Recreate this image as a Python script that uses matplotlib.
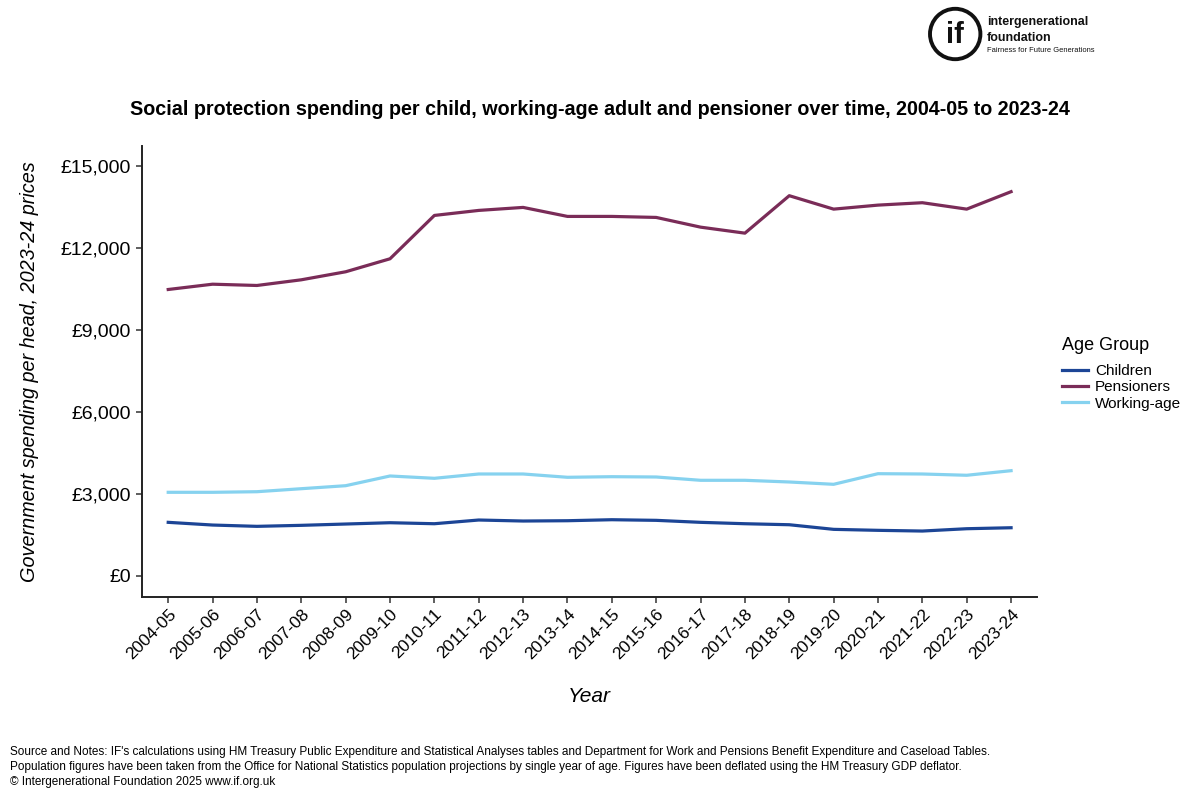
import numpy as np
import matplotlib.pyplot as plt
from matplotlib.patches import Circle
from matplotlib import font_manager

plt.rcParams['font.family'] = ['Liberation Sans', 'DejaVu Sans']

# Data
years = ['2004-05', '2005-06', '2006-07', '2007-08', '2008-09', '2009-10',
         '2010-11', '2011-12', '2012-13', '2013-14', '2014-15', '2015-16',
         '2016-17', '2017-18', '2018-19', '2019-20', '2020-21', '2021-22',
         '2022-23', '2023-24']
children = [1958, 1859, 1811, 1848, 1896, 1944, 1907, 2043, 2006, 2017,
            2054, 2031, 1958, 1907, 1870, 1701, 1665, 1639, 1724, 1760]
pensioners = [10488, 10682, 10635, 10843, 11137, 11613, 13201, 13385, 13495, 13165,
              13165, 13128, 12772, 12552, 13924, 13432, 13579, 13667, 13432, 14071]
working_age = [3058, 3058, 3080, 3190, 3300, 3656, 3571, 3729, 3729, 3608,
               3630, 3619, 3498, 3498, 3436, 3351, 3740, 3729, 3682, 3850]
yticks = [0, 3000, 6000, 9000, 12000, 15000]

series = [('Children', children, '#1c4596'),
          ('Pensioners', pensioners, '#7a2c58'),
          ('Working-age', working_age, '#86d2ef')]

fig = plt.figure(figsize=(12, 8), dpi=100)
ax = fig.add_axes([0.118, 0.254, 0.746, 0.563])

x = np.arange(len(years))
for name, vals, col in series:
    ax.plot(x, vals, color=col, linewidth=2.3, label=name)

ax.set_xlim(-0.6, len(years) - 1 + 0.58)
ax.set_ylim(-770, 15730)
ax.set_xticks(x)
ax.set_xticklabels(years, rotation=45, ha='right', rotation_mode='anchor', fontsize=12.5)
ax.set_yticks(yticks)
ax.set_yticklabels([f'£{v:,}' for v in yticks], fontsize=14)
ax.tick_params(axis='both', length=4, width=1.1, color='#333333', labelcolor='black')
ax.tick_params(axis='x', pad=3)
for s in ['top', 'right']:
    ax.spines[s].set_visible(False)
for s in ['left', 'bottom']:
    ax.spines[s].set_linewidth(1.4)
    ax.spines[s].set_color('#222222')

ax.set_xlabel('Year', fontsize=15, style='italic', labelpad=18)
ax.set_ylabel('Government spending per head, 2023-24 prices', fontsize=14.3,
              style='italic', labelpad=16)

leg = ax.legend(title='Age Group', loc='center left', bbox_to_anchor=(1.013, 0.495),
                frameon=False, fontsize=11, title_fontsize=13,
                handlelength=1.7, handletextpad=0.45, labelspacing=0.15)
leg._legend_box.align = 'left'
leg._legend_box.sep = 7

fig.text(0.5, 0.863, 'Social protection spending per child, working-age adult and pensioner over time, 2004-05 to 2023-24',
         ha='center', va='center', fontsize=14.2, fontweight='bold')

names = {f.name for f in font_manager.fontManager.ttflist}
note_family = ['Liberation Sans Narrow', 'Liberation Sans'] if 'Liberation Sans Narrow' in names else ['Liberation Sans']
note_size = 10.4 if 'Liberation Sans Narrow' in names else 8.5

notes = ("Source and Notes: IF's calculations using HM Treasury Public Expenditure and Statistical Analyses tables and Department for Work and Pensions Benefit Expenditure and Caseload Tables.\n"
         "Population figures have been taken from the Office for National Statistics population projections by single year of age. Figures have been deflated using the HM Treasury GDP deflator.\n"
         "© Intergenerational Foundation 2025 www.if.org.uk")
fig.text(0.008, 0.068, notes, ha='left', va='top', fontsize=note_size,
         family=note_family, linespacing=1.35)

# logo
lax = fig.add_axes([0.766, 0.9125, 0.06, 0.09])
lax.set_xlim(-1, 1)
lax.set_ylim(-1, 1)
lax.set_aspect('equal')
lax.axis('off')
lax.add_patch(Circle((0, 0), 0.7, fill=False, lw=2.8, color='#111111'))
lax.text(0, -0.04, 'if', ha='center', va='center', fontsize=21, fontweight='bold', color='#111111')
fig.text(0.8225, 0.9725, 'intergenerational', fontsize=9, fontweight='bold', va='center', color='#111111')
fig.text(0.8225, 0.9525, 'foundation', fontsize=9, fontweight='bold', va='center', color='#111111')
fig.text(0.8225, 0.9375, 'Fairness for Future Generations', fontsize=5.4, va='center', color='#111111')

fig.savefig('out.png', dpi=100)
